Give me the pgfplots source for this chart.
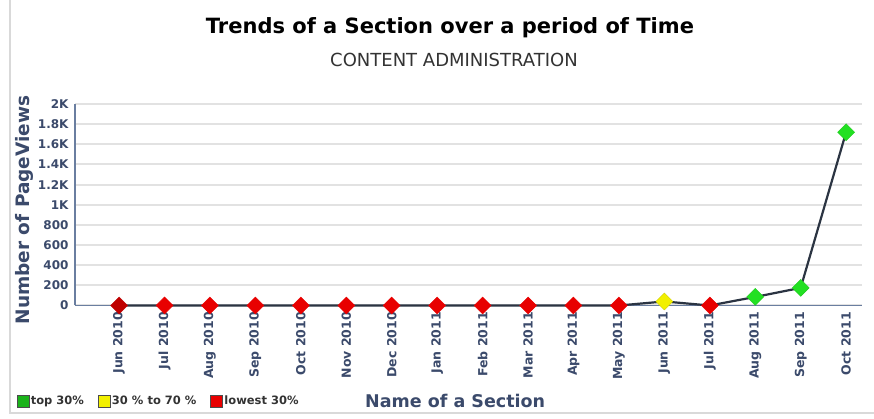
\documentclass[border=0pt]{standalone}
\usepackage{pgfplots}
\pgfplotsset{compat=1.18}
\usepackage{fontspec}
\setmainfont{DejaVu Sans}
\definecolor{lbl}{HTML}{3B4A6B}
\definecolor{axl}{HTML}{6A7EA0}
\definecolor{grd}{HTML}{E2E2E2}
\definecolor{ln}{HTML}{2B3442}
\definecolor{mred}{HTML}{E80000}
\definecolor{myel}{HTML}{F2F000}
\definecolor{mgrn}{HTML}{22E022}
\begin{document}
\begin{tikzpicture}[x=1pt,y=1pt]
\useasboundingbox[fill=white] (0,0) rectangle (874,419);
\draw[black!15, line width=1.5pt] (10,419) -- (10,6) -- (874,6);
\node[font=\bfseries\fontsize{21}{23}\selectfont] at (450,391) {Trends of a Section over a period of Time};
\node[font=\fontsize{18}{20}\selectfont, text=black!80] at (454,359) {CONTENT ADMINISTRATION};
\begin{axis}[
  at={(75pt,113.5pt)}, anchor=south west,
  scale only axis, width=787pt, height=201.5pt,
  xmin=-0.97, xmax=16.35, ymin=0, ymax=2000,
  axis x line*=bottom, axis y line*=left,
  axis line style={axl, line width=1.3pt, -},
  xtick={0,...,16},
  xticklabels={Jun 2010,Jul 2010,Aug 2010,Sep 2010,Oct 2010,Nov 2010,Dec 2010,Jan 2011,Feb 2011,Mar 2011,Apr 2011,May 2011,Jun 2011,Jul 2011,Aug 2011,Sep 2011,Oct 2011},
  ytick={0,200,...,2000},
  yticklabels={0,200,400,600,800,1K,1.2K,1.4K,1.6K,1.8K,2K},
  major tick length=0pt,
  ymajorgrids, grid style={grd, line width=2pt},
  x tick label style={rotate=90, anchor=east, font=\bfseries\fontsize{12.5}{13}\selectfont, text=lbl, xshift=-3pt},
  y tick label style={font=\bfseries\fontsize{12}{13}\selectfont, text=lbl, xshift=-3pt},
  ylabel={Number of PageViews},
  ylabel style={at={(axis description cs:-0.064,0.474)}, anchor=center, font=\bfseries\fontsize{18.5}{20}\selectfont, text=lbl},
  xlabel={Name of a Section},
  xlabel style={at={(axis description cs:0.483,-0.474)}, anchor=center, font=\bfseries\fontsize{17.5}{19}\selectfont, text=lbl},
  legend columns=3,
  legend style={at={(axis description cs:-0.078,-0.474)}, anchor=west, draw=none, fill=none,
    font=\bfseries\fontsize{11.5}{12}\selectfont, text=black!80,
    /tikz/every even column/.append style={column sep=12pt}},
  legend cell align=left,
  clip=false,
]
\addlegendimage{only marks, mark=square*, mark size=6pt, mark options={fill=mgrn!80!black, draw=black!70}}
\addlegendentry{top 30\%}
\addlegendimage{only marks, mark=square*, mark size=6pt, mark options={fill=myel, draw=black!70}}
\addlegendentry{30 \% to 70 \%}
\addlegendimage{only marks, mark=square*, mark size=6pt, mark options={fill=mred, draw=black!70}}
\addlegendentry{lowest 30\%}
\addplot[ln, line width=2.2pt, no marks, forget plot] coordinates {
(0,0) (1,0) (2,0) (3,0) (4,0) (5,0) (6,0) (7,0) (8,0) (9,0) (10,0) (11,0) (12,40) (13,0) (14,85) (15,175) (16,1720)};
\addplot[only marks, mark=square*, mark size=6pt, mark options={rotate=45, fill=mred, draw=mred}, forget plot] coordinates {
(1,0) (2,0) (3,0) (4,0) (5,0) (6,0) (7,0) (8,0) (9,0) (10,0) (11,0) (13,0)};
\addplot[only marks, mark=square*, mark size=6pt, mark options={rotate=45, fill=red!75!black, draw=red!75!black}, forget plot] coordinates {(0,0)};
\addplot[only marks, mark=square*, mark size=6pt, mark options={rotate=45, fill=myel, draw=myel!85!black}, forget plot] coordinates {(12,40)};
\addplot[only marks, mark=square*, mark size=6pt, mark options={rotate=45, fill=mgrn, draw=mgrn!90!black}, forget plot] coordinates {(14,85) (15,175) (16,1720)};
\end{axis}
\end{tikzpicture}
\end{document}
